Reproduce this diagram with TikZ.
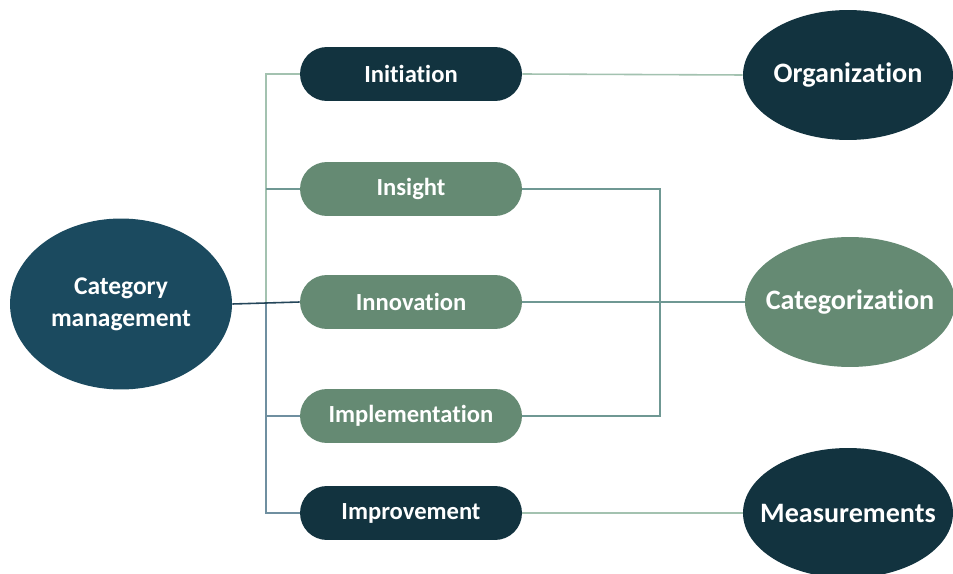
\documentclass[tikz,border=0pt]{standalone}
\usepackage{fontspec}
\setmainfont{Carlito}[Ligatures=CommonOff]
\usetikzlibrary{shapes.geometric}
\definecolor{navy}{HTML}{12333F}
\definecolor{petrol}{HTML}{1B4A5F}
\definecolor{sage}{HTML}{658A73}
\definecolor{linelight}{HTML}{A3C2B0}
\definecolor{lineteal}{HTML}{6F9893}
\definecolor{lineblue}{HTML}{6F8FA0}
\definecolor{linedark}{HTML}{24465A}
% zero-width label so the oval keeps its own size
\newcommand{\zw}[1]{\makebox[0pt]{#1}}
\tikzset{
  px/.style={x=0.02cm,y=-0.02cm},
  pill/.style={rectangle, rounded corners=0.54cm, minimum width=4.44cm, minimum height=1.08cm,
    inner sep=0pt, text=white, font=\fontsize{14}{15}\selectfont\bfseries},
  oval/.style={ellipse, minimum width=4.2cm, minimum height=2.6cm, inner sep=0pt,
    text=white, font=\fontsize{16}{18}\selectfont\bfseries, align=center},
  link/.style={line width=0.9pt},
}
\begin{document}
\begin{tikzpicture}[px]
\useasboundingbox (0,0) rectangle (953,574);
\clip (0,0) rectangle (953,574);
\fill[white] (0,0) rectangle (953,574);

% central topic
\node[oval, fill=petrol, minimum width=4.44cm, minimum height=3.42cm,
      font=\fontsize{14.5}{18}\selectfont\bfseries] (cm) at (121,304) {\zw{Category}\\\zw{management}};

% the five steps
\node[pill, fill=navy] (init) at (411,74) {Initiation};
\node[pill, fill=sage] (ins)  at (411,189) {Insight};
\node[pill, fill=sage] (inn)  at (411,302) {Innovation};
\node[pill, fill=sage] (impl) at (411,416) {Implementation};
\node[pill, fill=navy] (impr) at (411,513) {Improvement};

% outcome groups
\node[oval, fill=navy] (org) at (848,75) {\zw{Organization}};
\node[oval, fill=sage] (cat) at (850,302) {\zw{Categorization}};
\node[oval, fill=navy] (mea) at (848,513) {\zw{Measurements}};

% trunk on the left
\coordinate (tk) at (266,303);
\draw[link, linelight] (init.west) -| (tk);
\draw[link, lineteal] (ins.west) -- (ins.west -| tk);
\draw[link, lineblue] (tk) |- (impr.west);
\draw[link, lineblue] (impl.west) -- (impl.west -| tk);
\draw[link, linedark] (cm.east) -- (inn.west);

% links on the right
\coordinate (br) at (660,302);
\draw[link, linelight] (init.east) -- (org.west);
\draw[link, lineteal] (ins.east) -| (br) |- (impl.east);
\draw[link, lineteal] (inn.east) -- (cat.west);
\draw[link, linelight] (impr.east) -- (mea.west);
\end{tikzpicture}
\end{document}
